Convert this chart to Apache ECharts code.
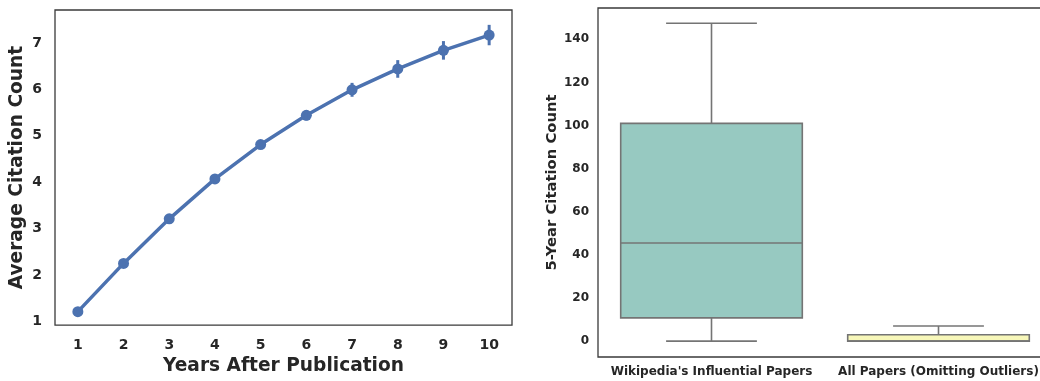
<!DOCTYPE html>
<html>
<head>
<meta charset="utf-8">
<script src="https://cdn.jsdelivr.net/npm/echarts@6/dist/echarts.min.js"></script>
<style>
html,body{margin:0;padding:0;background:#fff;overflow:hidden;width:1040px;height:381px;}
#c{width:1052px;height:381px;}
</style>
</head>
<body>
<div id="c"></div>
<script>
// ---- Data (left: point plot) ----
const years = ['1','2','3','4','5','6','7','8','9','10'];
const avgCitations = [1.21, 2.25, 3.21, 4.07, 4.81, 5.44, 5.99, 6.44, 6.84, 7.17];
const ciHalf = [0.03, 0.04, 0.05, 0.06, 0.08, 0.11, 0.15, 0.19, 0.2, 0.22];
const leftTicks = [1, 2, 3, 4, 5, 6, 7];

// ---- Data (right: box plot) ----
const boxCategories = ["Wikipedia's Influential Papers", "All Papers (Omitting Outliers)"];
// [min, Q1, median, Q3, max]
const wikiStats = [0, 10.8, 45.5, 101, 147.4];
const allStats = [0, 0, 0, 3, 7];
const boxColors = ['#97c9c1', '#f7f7b9'];
const rightTicks = [0, 20, 40, 60, 80, 100, 120, 140];

const textColor = '#262626';
const fontFam = 'DejaVu Sans';
const blue = '#4c72b0';

const boxData = [wikiStats, allStats].map((s, i) => [i].concat(s));
const errData = years.map((y, i) => [i, avgCitations[i] - ciHalf[i], avgCitations[i] + ciHalf[i]]);

const chart = echarts.init(document.getElementById('c'), null, {renderer: 'canvas'});
chart.setOption({
  animation: false,
  textStyle: {fontFamily: fontFam},
  grid: [
    {left: 55, right: 540, top: 10, bottom: 54, show: true, borderColor: '#3a3a3a', borderWidth: 1.3, backgroundColor: 'transparent'},
    {left: 598, right: 0, top: 8, bottom: 24, show: true, borderColor: '#3a3a3a', borderWidth: 1.3, backgroundColor: 'transparent'}
  ],
  xAxis: [
    {
      type: 'category', gridIndex: 0, data: years, boundaryGap: true,
      axisLine: {show: false}, axisTick: {show: false}, splitLine: {show: false},
      axisLabel: {color: textColor, fontSize: 14, fontWeight: 'bold', margin: 13, fontFamily: fontFam},
      name: 'Years After Publication', nameLocation: 'middle', nameGap: 31,
      nameTextStyle: {color: textColor, fontSize: 18.6, fontWeight: 'bold', fontFamily: fontFam}
    },
    {
      type: 'category', gridIndex: 1, data: boxCategories, boundaryGap: true,
      axisLine: {show: false}, axisTick: {show: false}, splitLine: {show: false},
      axisLabel: {color: textColor, fontSize: 12, fontWeight: 'bold', margin: 9, fontFamily: fontFam, interval: 0}
    }
  ],
  yAxis: [
    {
      type: 'value', gridIndex: 0, min: 0.92, max: 7.71,
      axisLine: {show: false}, axisTick: {show: false}, splitLine: {show: false},
      axisLabel: {color: textColor, fontSize: 14, fontWeight: 'bold', margin: 13, fontFamily: fontFam, customValues: leftTicks},
      name: 'Average Citation Count', nameLocation: 'middle', nameGap: 28, nameRotate: 90,
      nameTextStyle: {color: textColor, fontSize: 18.6, fontWeight: 'bold', fontFamily: fontFam}
    },
    {
      type: 'value', gridIndex: 1, min: -7.35, max: 154.5,
      axisLine: {show: false}, axisTick: {show: false}, splitLine: {show: false},
      axisLabel: {color: textColor, fontSize: 12, fontWeight: 'bold', margin: 9, fontFamily: fontFam, customValues: rightTicks},
      name: '5-Year Citation Count', nameLocation: 'middle', nameGap: 38, nameRotate: 90,
      nameTextStyle: {color: textColor, fontSize: 14.8, fontWeight: 'bold', fontFamily: fontFam}
    }
  ],
  series: [
    {
      type: 'line', xAxisIndex: 0, yAxisIndex: 0, data: avgCitations,
      lineStyle: {color: blue, width: 3.5}, itemStyle: {color: blue},
      symbol: 'circle', symbolSize: 11, showSymbol: true, z: 3
    },
    {
      type: 'custom', xAxisIndex: 0, yAxisIndex: 0, data: errData, z: 4,
      renderItem: function (params, api) {
        const p1 = api.coord([api.value(0), api.value(1)]);
        const p2 = api.coord([api.value(0), api.value(2)]);
        return {type: 'line', shape: {x1: p1[0], y1: p1[1], x2: p2[0], y2: p2[1]},
          style: {stroke: blue, lineWidth: 3}};
      }
    },
    {
      type: 'custom', xAxisIndex: 1, yAxisIndex: 1, data: boxData, z: 3,
      renderItem: function (params, api) {
        const idx = api.value(0);
        const vMin = api.value(1), q1 = api.value(2), med = api.value(3), q3 = api.value(4), vMax = api.value(5);
        const band = api.size([1, 0])[0];
        const bw = band * 0.8, cw = bw / 2;
        const cx = api.coord([idx, 0])[0];
        const yMin = api.coord([idx, vMin])[1], yQ1 = api.coord([idx, q1])[1], yMed = api.coord([idx, med])[1],
              yQ3 = api.coord([idx, q3])[1], yMax = api.coord([idx, vMax])[1];
        const ls = {stroke: '#747474', lineWidth: 1.6};
        const children = [
          {type: 'line', shape: {x1: cx, y1: yQ3, x2: cx, y2: yMax}, style: ls},
          {type: 'line', shape: {x1: cx - cw / 2, y1: yMax, x2: cx + cw / 2, y2: yMax}, style: ls},
          {type: 'rect', shape: {x: cx - bw / 2, y: yQ3, width: bw, height: yQ1 - yQ3},
            style: {fill: boxColors[idx], stroke: '#747474', lineWidth: 1.6}},
          {type: 'line', shape: {x1: cx - bw / 2, y1: yMed, x2: cx + bw / 2, y2: yMed}, style: ls}
        ];
        if (yMin - yQ1 > 0.5) {
          children.push({type: 'line', shape: {x1: cx, y1: yQ1, x2: cx, y2: yMin}, style: ls});
          children.push({type: 'line', shape: {x1: cx - cw / 2, y1: yMin, x2: cx + cw / 2, y2: yMin}, style: ls});
        }
        return {type: 'group', children: children};
      }
    }
  ]
});
</script>
</body>
</html>
